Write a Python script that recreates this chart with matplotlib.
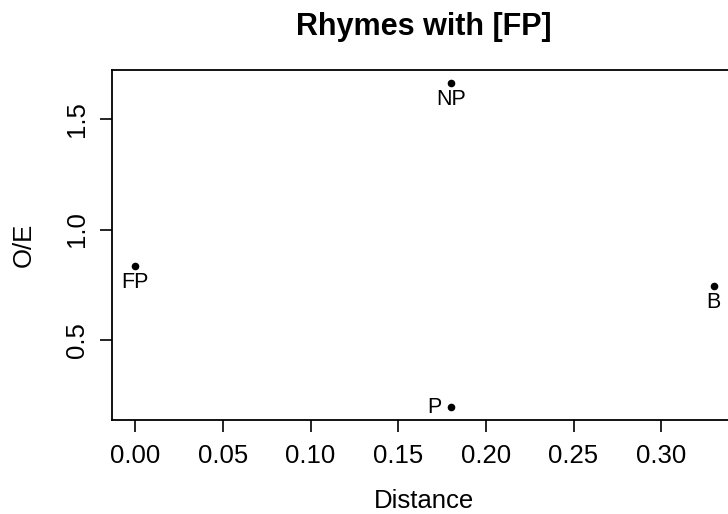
import matplotlib
matplotlib.use('Agg')
import matplotlib.pyplot as plt

# dane
labels = ['FP', 'NP', 'P', 'B']
distance = [0.0, 0.18, 0.18, 0.33]
oe = [0.835, 1.663, 0.197, 0.744]
label_pos = ['below', 'below', 'left', 'below']

x_ticks = [0.00, 0.05, 0.10, 0.15, 0.20, 0.25, 0.30]
y_ticks = [0.5, 1.0, 1.5]

plt.rcParams['font.family'] = ['Liberation Sans', 'DejaVu Sans']

fig = plt.figure(figsize=(7.28, 5.14), dpi=100)
ax = fig.add_axes([112 / 728, 1 - 420 / 514, (737 - 112) / 728, (420 - 70) / 514])

ax.scatter(distance, oe, s=20, c='black', zorder=3)

for lab, x, y, pos in zip(labels, distance, oe, label_pos):
    if pos == 'below':
        ax.annotate(lab, (x, y), xytext=(0, -4), textcoords='offset points',
                    ha='center', va='top', fontsize=15.5)
    else:
        ax.annotate(lab, (x, y), xytext=(-7, 0), textcoords='offset points',
                    ha='right', va='center', fontsize=15.5)

# zakresy jak w R (4% marginesu)
xr = max(distance) - min(distance)
yr = max(oe) - min(oe)
ax.set_xlim(min(distance) - 0.04 * xr, max(distance) + 0.04 * xr)
ax.set_ylim(min(oe) - 0.04 * yr, max(oe) + 0.04 * yr)

ax.set_xticks(x_ticks)
ax.set_xticklabels([f'{t:.2f}' for t in x_ticks])
ax.set_yticks(y_ticks)
ax.set_yticklabels([f'{t:.1f}' for t in y_ticks], rotation=90, va='center')
ax.tick_params(direction='out', length=8.5, width=1.2, labelsize=18.5)
ax.tick_params(axis='x', pad=9)
ax.tick_params(axis='y', pad=8)

for s in ax.spines.values():
    s.set_linewidth(1.3)

ax.set_xlabel('Distance', fontsize=18.5, labelpad=15)
ax.set_ylabel('O/E', fontsize=18.5, labelpad=21)
fig.text(424 / 728, 1 - 35 / 514, 'Rhymes with [FP]', ha='center', va='baseline',
         fontsize=22, fontweight='bold')

fig.savefig('out.png', dpi=100)
